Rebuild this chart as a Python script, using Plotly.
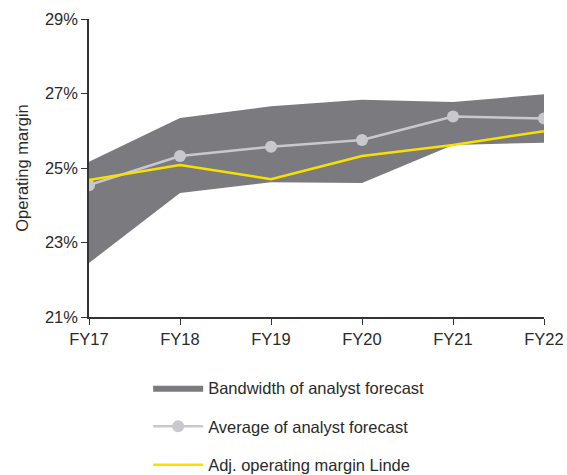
import plotly.graph_objects as go

categories = ["FY17", "FY18", "FY19", "FY20", "FY21", "FY22"]
band_upper = [25.17, 26.34, 26.66, 26.83, 26.77, 26.98]
band_lower = [22.45, 24.33, 24.62, 24.60, 25.62, 25.68]
average_forecast = [24.54, 25.32, 25.57, 25.75, 26.38, 26.33]
linde_margin = [24.68, 25.08, 24.70, 25.32, 25.62, 25.99]
y_ticks = [21, 23, 25, 27, 29]
y_tick_labels = ["21%", "23%", "25%", "27%", "29%"]

FONT = "Liberation Sans, Arial, sans-serif"
FS = 16.5
band_color = "#7b7a7f"
avg_color = "#c9c9cd"
yellow = "#f7e100"
text_color = "#2a2a2a"

fig = go.Figure()
fig.add_trace(go.Scatter(x=categories, y=band_upper, mode="lines",
                         line=dict(width=0, color=band_color), showlegend=False,
                         hoverinfo="skip", legendgroup="a"))
fig.add_trace(go.Scatter(x=categories, y=band_lower, mode="lines",
                         line=dict(width=0, color=band_color), fill="tonexty",
                         fillcolor=band_color, name="Bandwidth of analyst forecast",
                         legendgroup="a"))
fig.add_trace(go.Scatter(x=categories, y=average_forecast, mode="lines+markers",
                         line=dict(width=2.5, color=avg_color),
                         marker=dict(size=12, color=avg_color),
                         name="Average of analyst forecast", legendgroup="b"))
fig.add_trace(go.Scatter(x=categories, y=linde_margin, mode="lines",
                         line=dict(width=2.5, color=yellow),
                         name="Adj. operating margin Linde", legendgroup="c"))

fig.update_layout(
    width=567, height=475,
    margin=dict(l=89, r=23, t=19, b=158, autoexpand=False),
    plot_bgcolor="white", paper_bgcolor="white",
    font=dict(family=FONT, size=FS, color=text_color),
    showlegend=True,
    legend=dict(x=0.13, y=-0.18, xanchor="left", yanchor="top",
                tracegroupgap=14, itemwidth=50, traceorder="grouped",
                font=dict(size=FS, family=FONT, color=text_color)),
    xaxis=dict(type="category", range=[0, 5], showline=True, linecolor="#333333",
               linewidth=1.5, ticks="outside", ticklen=6, tickcolor="#333333",
               showgrid=False, zeroline=False, tickfont=dict(size=FS)),
    yaxis=dict(range=[21, 29], tickvals=y_ticks, ticktext=y_tick_labels,
               showline=True, linecolor="#333333", linewidth=1.5, ticks="outside",
               ticklen=6, tickcolor="#333333", showgrid=False, zeroline=False,
               title=dict(text="Operating margin", font=dict(size=FS), standoff=12),
               tickfont=dict(size=FS)),
)

fig.write_html(
    "out.html",
    config={"displayModeBar": False},
    post_script="document.body.style.margin='0';document.body.style.overflow='hidden';",
)
